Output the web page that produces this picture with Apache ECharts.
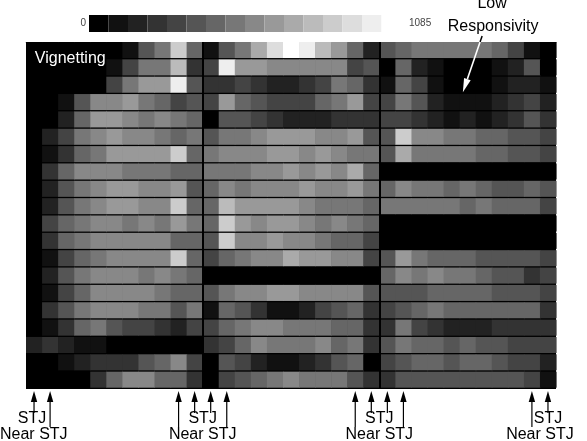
<!DOCTYPE html>
<html>
<head>
<meta charset="utf-8">
<script src="https://cdn.jsdelivr.net/npm/echarts@6/dist/echarts.min.js"></script>
<style>
    html, body { margin: 0; padding: 0; background: #fff; }
    #chart { width: 587px; height: 441px; }
</style>
</head>
<body>
<div id="chart"></div>
<script>
    // grey level (0 = black ... f = white) of every cell, one string per row, 11 columns per panel
    var panelA = [
        '000000157c6', '000001477b3', '000004799e5', '00158897645', '00269987876',
        '02478988767', '013679999c6', '03688877766', '02578998895', '025789988c6',
        '04678878797', '03678888866', '014678888c6', '02578887876', '01468888766',
        '03578887757', '01367544324', '23211000000', '00123335684', '00003688663'
    ];
    var panelB = [
        '157adfeb962', '4e998888845', '33432234763', '49654446794', '05543222333',
        '57789998895', '78889989877', '777889898a6', '68788898897', '6b999987776',
        '6c989987876', '5c889887664', '46788a99884', '00000000000', '57889988885',
        '16531124563', '46788777663', '34687778673', '05421123560', '04567877753'
    ];
    var panelC = [
        '56777776410', '06210001250', '16410001221', '47521112342', '44321212353',
        '5c887766554', '5a777766554', '00000000000', '68776765565', '77777676664',
        '00000000000', '00000000000', '59766655554', '68787765534', '55566665554',
        '45676666663', '37432223333', '57665655444', '45665665442', '35555555541'
    ];
    var maxCount = 1085;
    var levels = 15;
    var panelCols = 11;
    var nRows = 20;

    // arrows under the image: columns of the STJ / Near STJ marks
    var arrowGroups = [
        { stj: [0], near: [1] },
        { stj: [10, 11], near: [9, 12] },
        { stj: [21, 22], near: [20, 23] },
        { stj: [32], near: [31] }
    ];
    var lowRespTip = [27.2, 2.9];
    var lowRespTail = [28.4, -0.35];

    var step = maxCount / levels;
    var data = [];
    [panelA, panelB, panelC].forEach(function (panel, p) {
        panel.forEach(function (row, r) {
            for (var c = 0; c < row.length; c++) {
                data.push([p * panelCols + c, r, parseInt(row[c], 16) * step]);
            }
        });
    });

    var pieces = [];
    for (var i = 0; i <= levels; i++) {
        var g = i * 17;
        pieces.push({ min: (i - 0.5) * step, max: (i + 0.5) * step, color: 'rgb(' + g + ',' + g + ',' + g + ')' });
    }

    var font = '"Liberation Sans", Arial, sans-serif';
    var chart = echarts.init(document.getElementById('chart'));

    chart.setOption({
        animation: false,
        grid: {
            left: 26, top: 42, width: 530, height: 347,
            show: true, backgroundColor: '#000', borderWidth: 0
        },
        xAxis: {
            type: 'value', min: 0, max: panelCols * 3, position: 'top',
            axisLine: { show: true, lineStyle: { color: '#999', width: 1 } },
            axisTick: { show: false }, axisLabel: { show: false }, splitLine: { show: false }
        },
        yAxis: {
            type: 'value', min: 0, max: nRows, inverse: true, show: false
        },
        visualMap: {
            type: 'piecewise',
            orient: 'horizontal',
            left: 89, top: 15, padding: 0,
            dimension: 2,
            seriesIndex: 0,
            pieces: pieces,
            itemSymbol: 'rect',
            itemWidth: 19.5, itemHeight: 17, itemGap: 0,
            showLabel: false,
            selectedMode: false,
            hoverLink: false
        },
        series: [{
            type: 'custom',
            dimensions: ['col', 'row', 'count'],
            encode: { x: 0, y: 1 },
            silent: true,
            data: data,
            renderItem: function (params, api) {
                var p0 = api.coord([api.value(0), api.value(1)]);
                var p1 = api.coord([api.value(0) + 1, api.value(1) + 1]);
                return {
                    type: 'rect',
                    shape: { x: p0[0], y: p0[1], width: p1[0] - p0[0] + 0.6, height: p1[1] - p0[1] - 1.3 },
                    style: { fill: api.visual('color') }
                };
            },
            markLine: {
                silent: true,
                symbol: ['none', 'none'],
                label: { show: false },
                lineStyle: { color: '#000', width: 2, type: 'solid' },
                data: [{ xAxis: panelCols }, { xAxis: panelCols * 2 }]
            }
        }]
    });

    // annotations, placed through the axes
    function px(pt) {
        return chart.convertToPixel({ gridIndex: 0 }, pt);
    }
    function colX(c) {
        return px([c + 0.5, 0])[0];
    }
    function txt(text, x, y, align, size, color) {
        return {
            type: 'text', z: 100, x: x, y: y,
            style: {
                text: text, fill: color || '#000', font: (size || 16) + 'px ' + font,
                textAlign: align || 'center', align: align || 'center',
                textVerticalAlign: 'middle', verticalAlign: 'middle'
            }
        };
    }
    function upArrow(x, yTip, yTail) {
        return [
            { type: 'line', z: 100, shape: { x1: x, y1: yTip + 8, x2: x, y2: yTail }, style: { stroke: '#000', lineWidth: 1.2 } },
            { type: 'polygon', z: 100, shape: { points: [[x, yTip], [x - 3.2, yTip + 11], [x + 3.2, yTip + 11]] }, style: { fill: '#000' } }
        ];
    }

    var bottom = px([0, nRows])[1];
    var width = chart.getWidth();
    var elements = [
        txt('0', 86, 23, 'right', 10, '#444'),
        txt(String(maxCount), 409, 23, 'left', 10, '#444')
    ];
    arrowGroups.forEach(function (grp) {
        var stjX = grp.stj.map(colX);
        var allX = stjX.concat(grp.near.map(colX));
        stjX.forEach(function (x) { elements = elements.concat(upArrow(x, bottom + 2, bottom + 24)); });
        grp.near.forEach(function (c) { elements = elements.concat(upArrow(colX(c), bottom + 2, bottom + 38)); });
        var sx = stjX.reduce(function (a, b) { return a + b; }, 0) / stjX.length;
        var nx = allX.reduce(function (a, b) { return a + b; }, 0) / allX.length;
        var half = 35;
        if (nx - half < 8) {
            elements.push(txt('Near STJ', 0, bottom + 46, 'left'));
        } else if (nx + half > width) {
            elements.push(txt('Near STJ', width, bottom + 46, 'right'));
        } else {
            elements.push(txt('Near STJ', nx, bottom + 46));
        }
        elements.push(txt('STJ', Math.min(Math.max(sx, 16), width - 26) - (sx < 50 ? 2 : 0), bottom + 30));
    });

    var topLeft = px([0.55, 0.95]);
    elements.push({
        type: 'text', z: 100, x: topLeft[0], y: topLeft[1],
        style: { text: 'Vignetting', fill: '#fff', font: '16px ' + font, textVerticalAlign: 'middle', verticalAlign: 'middle' }
    });

    // "Low Responsivity" arrow: black above the image, white over it
    var tip = px(lowRespTip);
    var tail = px(lowRespTail);
    var gridTop = px([0, 0])[1];
    var ang = Math.atan2(tip[1] - tail[1], tip[0] - tail[0]);
    var hb = [tip[0] - 14 * Math.cos(ang), tip[1] - 14 * Math.sin(ang)];
    var nrm = [-Math.sin(ang) * 3.5, Math.cos(ang) * 3.5];
    var xTop = tail[0] + (tip[0] - tail[0]) * (gridTop - tail[1]) / (tip[1] - tail[1]);
    elements.push(
        { type: 'line', z: 100, shape: { x1: tail[0], y1: tail[1], x2: xTop, y2: gridTop }, style: { stroke: '#000', lineWidth: 1.5 } },
        { type: 'line', z: 101, shape: { x1: xTop, y1: gridTop, x2: hb[0], y2: hb[1] }, style: { stroke: '#fff', lineWidth: 1.6 } },
        { type: 'polygon', z: 101, shape: { points: [[tip[0], tip[1]], [hb[0] + nrm[0], hb[1] + nrm[1]], [hb[0] - nrm[0], hb[1] - nrm[1]]] }, style: { fill: '#fff' } },
        txt('Low', tail[0] + 10, 4),
        txt('Responsivity', tail[0] + 11, 27)
    );

    chart.setOption({ graphic: { elements: elements } });
</script>
</body>
</html>
